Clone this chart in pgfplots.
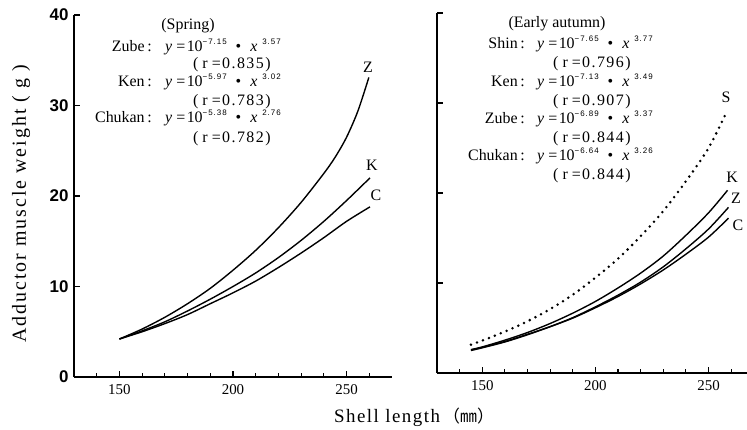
\documentclass[border=0pt]{standalone}
\usepackage{pgfplots}
\pgfplotsset{compat=1.18}
\usepackage{fontspec}
\setmainfont{Liberation Serif}
\setsansfont{Liberation Sans}
\newfontfamily\cjk{Noto Sans CJK JP}
\newfontfamily\ylabfont[LetterSpace=10]{Liberation Serif}
\newfontfamily\xlabfont[LetterSpace=8]{Liberation Serif}
\newfontfamily\rfont[LetterSpace=9]{Liberation Serif}
\newfontfamily\supfont[LetterSpace=12]{Liberation Sans}
\newcommand{\sups}[1]{\raisebox{0.42em}{\fontsize{8}{8}\selectfont\supfont #1}}
\newcommand{\eqn}[2]{\textit{y}\hspace{4bp}=\hspace{1.5bp}10\sups{−#1}\hspace{9bp}\textbullet\hspace{9bp}\textit{x}\hspace{5bp}\sups{#2}}
\newcommand{\rl}[1]{{\rfont (\hspace{4bp}r\hspace{4bp}=#1)}}
\pgfplotsset{panel/.style={
  scale only axis, axis lines=left,
  axis line style={-, line width=1.3pt},
  tick align=inside,
  xmin=130, ymin=0, ymax=40,
  ytick={0,10,20,30,40},
  xtick={150,200,250},
  minor xtick={140,160,170,180,190,210,220,230,240,260},
  major tick length=6bp, minor tick length=4.5bp,
  tick style={black, line width=1.1pt},
  xticklabel style={font=\fontsize{15}{15}\selectfont, yshift=-4bp},
  /pgf/number format/assume math mode=true,
  clip=false,
  curve/.style={black, line width=1.4pt, smooth},
}}
\begin{document}
\begin{tikzpicture}[x=1bp,y=1bp]
\useasboundingbox (0,0) rectangle (747,429);
% left panel
\begin{axis}[panel, at={(74bp,52bp)}, anchor=south west,
  width=318bp, height=362bp, xmax=270,
  yticklabel style={font=\sffamily\bfseries\fontsize{17}{17}\selectfont, xshift=-2bp}]
\addplot[curve] coordinates {(150,4.2)(160,5.3)(170,6.6)(180,8.1)(190,9.8)(200,11.8)(210,14.0)(220,16.5)(230,19.3)(240,22.5)(245,24.3)(250,26.5)(255,29.4)(259.8,33.1)};
\addplot[curve] coordinates {(150,4.2)(160,5.1)(170,6.1)(180,7.3)(190,8.6)(200,10.0)(210,11.5)(220,13.2)(230,15.1)(240,17.2)(250,19.5)(260.3,22.0)};
\addplot[curve] coordinates {(150,4.2)(160,5.0)(170,5.9)(180,6.9)(190,8.1)(200,9.3)(210,10.6)(220,12.1)(230,13.7)(240,15.4)(250,17.2)(260.3,18.8)};
\end{axis}
% right panel
\begin{axis}[panel, at={(437bp,56bp)}, anchor=south west,
  width=310bp, height=360bp, xmax=267, yticklabels={}]
\addplot[black, line width=2.8pt, line cap=round, dash pattern=on 0pt off 6.4pt, smooth] coordinates {(145,3.15)(150,3.6)(160,4.6)(170,5.75)(180,7.1)(190,8.7)(200,10.6)(210,12.7)(220,15.2)(230,18.0)(240,21.3)(250,25.0)(258,29.0)};
\addplot[curve] coordinates {(145,2.6)(150,2.9)(160,3.65)(170,4.5)(180,5.5)(190,6.65)(200,7.95)(210,9.45)(220,11.1)(230,13.0)(240,15.3)(250,17.8)(258.4,20.3)};
\addplot[curve] coordinates {(145,2.5)(150,2.8)(160,3.45)(170,4.25)(180,5.15)(190,6.15)(200,7.35)(210,8.65)(220,10.1)(230,11.8)(240,13.8)(250,16.0)(258.8,18.4)};
\addplot[curve] coordinates {(145,2.55)(150,2.85)(160,3.5)(170,4.3)(180,5.15)(190,6.1)(200,7.25)(210,8.5)(220,9.9)(230,11.45)(240,13.2)(250,15.1)(258.8,17.2)};
\end{axis}
% axis titles
\node[rotate=90, font=\ylabfont\fontsize{20}{20}\selectfont] at (21,225) {Adductor muscle weight ( g )};
\node[font=\xlabfont\fontsize{19}{19}\selectfont] at (414,12) {Shell length\hspace{3bp}{\cjk\fontsize{17}{17}\selectfont （㎜）}};
% curve letters
\begin{scope}[every node/.style={font=\fontsize{16}{16}\selectfont}]
\node at (368,362) {Z};
\node at (372,264) {K};
\node at (376,234) {C};
\node at (726,332) {S};
\node at (732,252) {K};
\node at (736,231) {Z};
\node at (738,204) {C};
\end{scope}
% left annotations
\begin{scope}[every node/.style={font=\fontsize{16}{16}\selectfont, inner sep=0pt}]
\node[anchor=base] at (188,399) {(Spring)};
\node[anchor=base east] at (152,378) {Zube\,:};
\node[anchor=base west] at (165,378) {\eqn{7.15}{3.57}};
\node[anchor=base west] at (193,361) {\rl{0.835}};
\node[anchor=base east] at (152,343) {Ken\,:};
\node[anchor=base west] at (165,343) {\eqn{5.97}{3.02}};
\node[anchor=base west] at (193,324) {\rl{0.783}};
\node[anchor=base east] at (152,307) {Chukan\,:};
\node[anchor=base west] at (165,307) {\eqn{5.38}{2.76}};
\node[anchor=base west] at (193,287) {\rl{0.782}};
% right annotations
\node[anchor=base] at (557,401) {(Early autumn)};
\node[anchor=base east] at (525,381) {Shin\,:};
\node[anchor=base west] at (537,381) {\eqn{7.65}{3.77}};
\node[anchor=base west] at (553,362) {\rl{0.796}};
\node[anchor=base east] at (525,343) {Ken\,:};
\node[anchor=base west] at (537,343) {\eqn{7.13}{3.49}};
\node[anchor=base west] at (553,324) {\rl{0.907}};
\node[anchor=base east] at (525,306) {Zube\,:};
\node[anchor=base west] at (537,306) {\eqn{6.89}{3.37}};
\node[anchor=base west] at (553,287) {\rl{0.844}};
\node[anchor=base east] at (525,269) {Chukan\,:};
\node[anchor=base west] at (537,269) {\eqn{6.64}{3.26}};
\node[anchor=base west] at (553,250) {\rl{0.844}};
\end{scope}
\end{tikzpicture}
\end{document}
